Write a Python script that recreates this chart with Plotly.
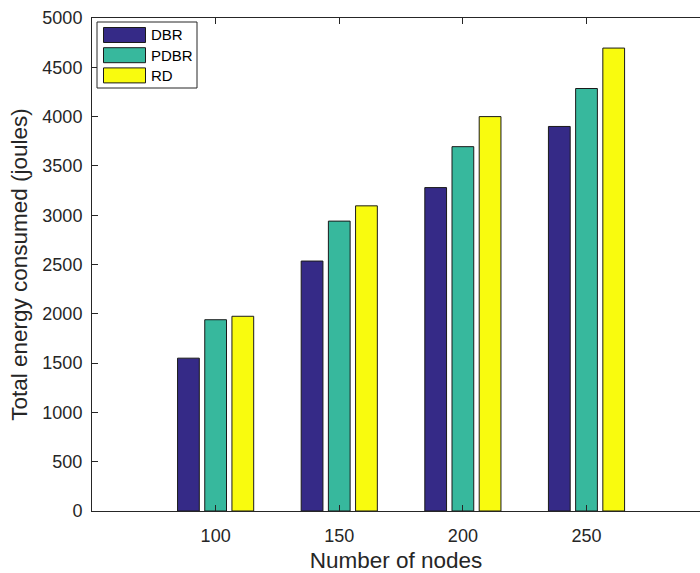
import plotly.graph_objects as go

nodes = [100, 150, 200, 250]
series_names = ["DBR", "PDBR", "RD"]
dbr = [1550, 2535, 3280, 3900]
pdbr = [1940, 2940, 3695, 4285]
rd = [1975, 3095, 4000, 4695]
y_ticks = [0, 500, 1000, 1500, 2000, 2500, 3000, 3500, 4000, 4500, 5000]

colors = ["#352a87", "#37b89d", "#f9fb0e"]
values = [dbr, pdbr, rd]

FONT = "Liberation Sans, Arial, Helvetica, sans-serif"
INK = "#262626"

fig = go.Figure()
for name, vals, c in zip(series_names, values, colors):
    fig.add_trace(go.Bar(
        x=nodes, y=vals, name=name, showlegend=False,
        marker=dict(color=c, line=dict(color="#1a1a1a", width=1)),
    ))

# plot area in page pixels: x 92..700, y 18..511 (body margin removed below)
W, H = 700, 573
PX0, PX1, PY0, PY1 = 92, 700, 18, 511
ML, MT, MB, MR = PX0, PY0, H - PY1, W - PX1

def px(x):
    return (x - PX0) / (PX1 - PX0)

def py(y):
    return (PY1 - y) / (PY1 - PY0)

shapes = []
annotations = []
# MATLAB-style legend box with wide swatches
shapes.append(dict(type="rect", xref="paper", yref="paper",
                   x0=px(97), x1=px(197), y0=py(88), y1=py(22),
                   line=dict(color=INK, width=1), fillcolor="white", layer="above"))
for i, (name, c) in enumerate(zip(series_names, colors)):
    top = 27.5 + i * 20.2
    shapes.append(dict(type="rect", xref="paper", yref="paper",
                       x0=px(103.5), x1=px(145.5), y0=py(top + 15), y1=py(top),
                       line=dict(color="#1a1a1a", width=1), fillcolor=c, layer="above"))
    annotations.append(dict(xref="paper", yref="paper", x=px(149), y=py(top + 7.5),
                            xanchor="left", yanchor="middle", showarrow=False,
                            text=name, font=dict(family=FONT, size=15, color="#000")))

tick_font = dict(family=FONT, size=18, color=INK)

fig.update_layout(
    width=W, height=H,
    margin=dict(l=ML, r=MR, t=MT, b=MB, pad=0),
    plot_bgcolor="white", paper_bgcolor="white",
    barmode="group", bargap=0.34, bargroupgap=0.2,
    font=dict(family=FONT, color=INK),
    showlegend=False,
    shapes=shapes, annotations=annotations,
    xaxis=dict(
        range=[50, 295.9], tickvals=nodes, ticktext=[str(n) for n in nodes],
        showgrid=False, zeroline=False,
        showline=True, linecolor=INK, linewidth=1, mirror="ticks",
        ticks="inside", ticklen=6, tickcolor=INK, ticklabelstandoff=8,
        title=dict(text="Number of nodes", font=dict(family=FONT, size=22.5, color=INK), standoff=10),
        tickfont=tick_font,
    ),
    yaxis=dict(
        range=[0, 5000], tickvals=y_ticks,
        showgrid=False, zeroline=False,
        showline=True, linecolor=INK, linewidth=1, mirror=False,
        ticks="inside", ticklen=6, tickcolor=INK, ticklabelstandoff=5,
        title=dict(text="Total energy consumed (joules)", font=dict(family=FONT, size=22.5, color=INK), standoff=8),
        tickfont=tick_font,
    ),
)

fig.write_html(
    "out.html",
    config={"displayModeBar": False},
    post_script="document.body.style.margin='0';document.body.style.overflow='hidden';",
)
